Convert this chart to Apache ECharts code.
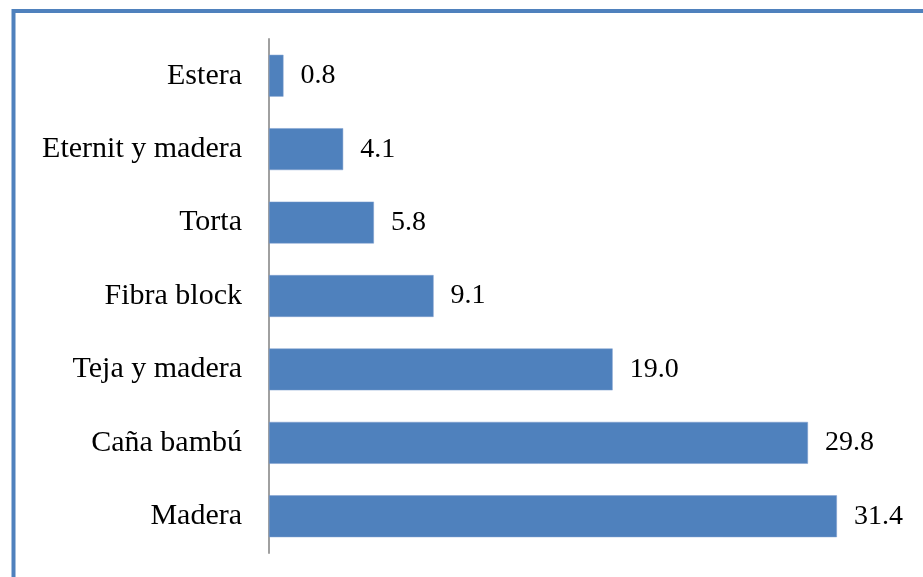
<!DOCTYPE html>
<html>
<head>
<meta charset="utf-8">
<script src="https://cdn.jsdelivr.net/npm/echarts@6/dist/echarts.min.js"></script>
<style>
html,body{margin:0;padding:0;background:#fff;}
#chart{width:923px;height:577px;}
</style>
</head>
<body>
<div id="chart"></div>
<script>
// categorias (de arriba hacia abajo)
var categorias = ['Estera', 'Eternit y madera', 'Torta', 'Fibra block', 'Teja y madera', 'Caña bambú', 'Madera'];
var valores = [0.8, 4.1, 5.8, 9.1, 19.0, 29.8, 31.4];

var chart = echarts.init(document.getElementById('chart'));
var option = {
    animation: false,
    backgroundColor: '#fff',
    graphic: [{
        type: 'rect',
        shape: { x: 13.5, y: 11, width: 1000, height: 1000 },
        style: { fill: 'none', stroke: '#4f81bd', lineWidth: 4 },
        silent: true
    }],
    grid: {
        left: 269,
        top: 39,
        height: 514,
        width: 633
    },
    xAxis: {
        type: 'value',
        min: 0,
        max: 35,
        show: false
    },
    yAxis: {
        type: 'category',
        inverse: true,
        data: categorias,
        axisLine: { lineStyle: { color: '#a0a0a0', width: 2 } },
        axisTick: { show: false },
        axisLabel: {
            margin: 27,
            color: '#000',
            fontFamily: 'Liberation Serif',
            fontSize: 30
        }
    },
    series: [{
        type: 'bar',
        data: valores,
        barCategoryGap: '43%',
        itemStyle: { color: '#4f81bd', borderColor: '#7f9fcf', borderWidth: 0.5 },
        label: {
            show: true,
            position: 'right',
            distance: 17,
            color: '#000',
            fontFamily: 'Liberation Serif',
            fontSize: 28,
            formatter: function (p) { return p.value.toFixed(1); }
        }
    }]
};
chart.setOption(option);
</script>
</body>
</html>
